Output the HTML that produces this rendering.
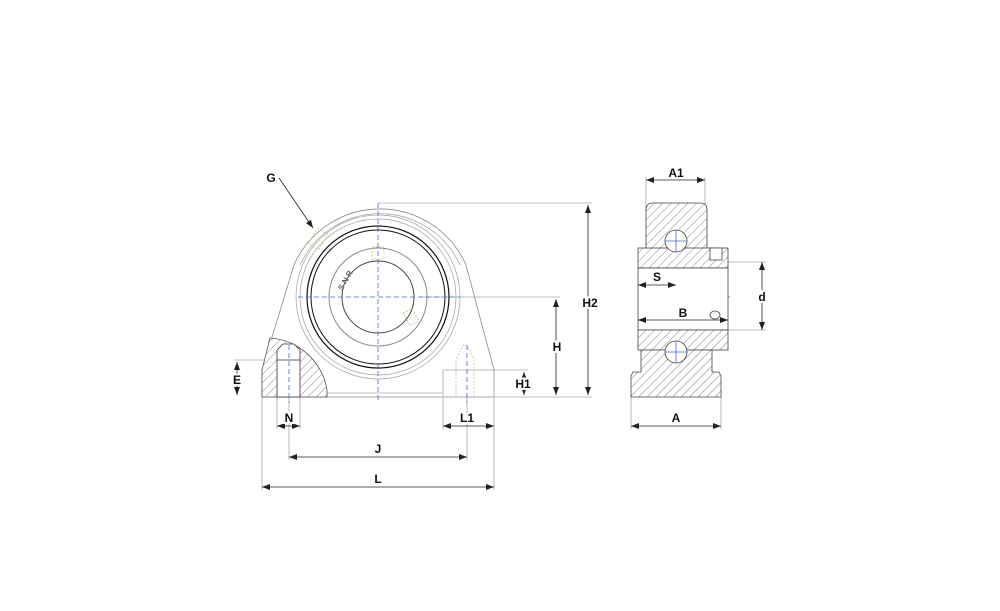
<!DOCTYPE html>
<html><head><meta charset="utf-8"><style>
html,body{margin:0;padding:0;background:#fff;}
svg{display:block;}
text{font-family:"Liberation Sans",sans-serif;font-weight:bold;font-size:12px;fill:#111;paint-order:stroke;stroke:#fff;stroke-width:4px;}
</style></head><body>
<svg width="1000" height="611" viewBox="0 0 1000 611" xmlns="http://www.w3.org/2000/svg">
<defs>
<pattern id="h" width="6" height="6" patternUnits="userSpaceOnUse" patternTransform="rotate(45)">
<rect width="6" height="6" fill="#fff"/><line x1="0" y1="0" x2="0" y2="6" stroke="#666" stroke-width="0.8"/>
</pattern>
<marker id="a" markerWidth="8" markerHeight="6" refX="8" refY="3" orient="auto-start-reverse" markerUnits="userSpaceOnUse">
<path d="M0,0 L8,3 L0,6 z" fill="#222"/></marker>
</defs>
<g fill="none" stroke="#aaa" stroke-width="0.8">
<path d="M262,397 L262,370 L294,265 A94,94 0 0 1 466,265 L494,370 L494,397 Z" stroke="#888"/>
<path d="M300,265 A88,88 0 0 1 460,265" />
<circle cx="378" cy="297" r="82"/>
<circle cx="378" cy="297" r="78"/>
<line x1="327" y1="393" x2="443" y2="393"/>
<rect x="443" y="370" width="51" height="27"/>
<line x1="378" y1="203" x2="592" y2="203"/>
<line x1="420" y1="297" x2="560" y2="297"/>
<line x1="262" y1="397" x2="592" y2="397"/>
<line x1="494" y1="370" x2="528" y2="370"/>
<line x1="234" y1="360" x2="278" y2="360"/>
<line x1="262" y1="397" x2="262" y2="490"/>
<line x1="494" y1="397" x2="494" y2="490"/>
<line x1="277" y1="397" x2="277" y2="429"/>
<line x1="300" y1="397" x2="300" y2="429"/>
<line x1="443" y1="397" x2="443" y2="429"/>
<line x1="289" y1="397" x2="289" y2="460"/>
<line x1="467" y1="397" x2="467" y2="460"/>
<line x1="646" y1="177" x2="646" y2="210"/>
<line x1="705" y1="177" x2="705" y2="210"/>
<line x1="631" y1="397" x2="631" y2="429"/>
<line x1="721" y1="397" x2="721" y2="429"/>
<line x1="728" y1="262" x2="766" y2="262"/>
<line x1="728" y1="330" x2="766" y2="330"/>
</g>
<path d="M262,397 L262,370 L270,338 A62,62 0 0 1 327,390 L327,397 Z" fill="url(#h)" stroke="#555" stroke-width="0.8"/>
<path d="M277,397 L277,350 L283,344 L294,344 L300,350 L300,397 Z" fill="#fff" stroke="#333" stroke-width="0.8"/>
<line x1="277" y1="360" x2="300" y2="360" stroke="#333" stroke-width="0.8"/>
<path d="M456,397 L456,360 L461,350 L464,344 L470,350 L474,360 L474,397" fill="none" stroke="#cc9" stroke-dasharray="2,1.5"/>
<g fill="none" stroke="#111">
<circle cx="378" cy="297" r="71" stroke-width="1.2"/>
<circle cx="378" cy="297" r="67" stroke-width="1"/>
<circle cx="378" cy="297" r="49" stroke="#888"/>
<circle cx="378" cy="297" r="36" stroke="#444"/>
</g>
<rect x="372" y="247" width="12" height="12" fill="none" stroke="#cc9" stroke-dasharray="2,1.5"/>
<rect x="312" y="230" width="12" height="18" fill="none" stroke="#cc9" stroke-dasharray="2,1.5" transform="rotate(30 318 239)"/>
<rect x="406" y="310" width="10" height="14" fill="none" stroke="#cc9" stroke-dasharray="2,1.5" transform="rotate(-30 411 317)"/>
<text x="336" y="290" style="font-size:8px;fill:#666;stroke:none" transform="rotate(-60 340 285)">S N R</text>
<g stroke="#3a6fd8" stroke-width="0.8" stroke-dasharray="5,3" fill="none">
<line x1="378" y1="203" x2="378" y2="400"/>
<line x1="298" y1="297" x2="460" y2="297"/>
<line x1="289" y1="345" x2="289" y2="403"/>
<line x1="467" y1="345" x2="467" y2="403"/>
<line x1="638" y1="297" x2="730" y2="297"/>
</g>
<g stroke="#444" stroke-width="0.8">
<path d="M646,260 L646,210 Q646,203 653,203 L700,203 Q707,203 707,210 L707,260" fill="url(#h)"/>
<rect x="638" y="248" width="90" height="20" fill="url(#h)"/>
<rect x="638" y="268" width="90" height="62" fill="#fff"/>
<rect x="638" y="330" width="90" height="20" fill="url(#h)"/>
<path d="M641,350 L641,372 L633,372 L631,376 L631,397 L721,397 L721,376 L719,372 L712,372 L712,350 Z" fill="url(#h)"/>
<circle cx="676" cy="241" r="11" fill="#fff"/>
<circle cx="676" cy="352" r="11" fill="#fff"/>
<rect x="710" y="248" width="12" height="12" fill="#fff"/>
<ellipse cx="715" cy="315" rx="5" ry="4" fill="#fff"/>
</g>
<g stroke="#3a6fd8" stroke-width="0.8" fill="none">
<line x1="676" y1="230" x2="676" y2="252"/><line x1="665" y1="241" x2="687" y2="241"/>
<line x1="676" y1="341" x2="676" y2="363"/><line x1="665" y1="352" x2="687" y2="352"/>
</g>
<g stroke="#222" stroke-width="0.8" fill="none" marker-start="url(#a)" marker-end="url(#a)">
<line x1="588" y1="205" x2="588" y2="395"/>
<line x1="556" y1="299" x2="556" y2="395"/>
<line x1="524" y1="372" x2="524" y2="395"/>
<line x1="237" y1="362" x2="237" y2="395"/>
<line x1="277" y1="426" x2="300" y2="426"/>
<line x1="443" y1="426" x2="494" y2="426"/>
<line x1="289" y1="457" x2="467" y2="457"/>
<line x1="262" y1="487" x2="494" y2="487"/>
<line x1="646" y1="180" x2="705" y2="180"/>
<line x1="631" y1="426" x2="721" y2="426"/>
<line x1="762" y1="262" x2="762" y2="330"/>
<line x1="638" y1="285" x2="676" y2="285"/>
<line x1="638" y1="320" x2="728" y2="320"/>
</g>
<line x1="279" y1="178" x2="313" y2="228" stroke="#222" stroke-width="0.8" marker-end="url(#a)"/>
<g text-anchor="middle">
<text x="271" y="182">G</text>
<text x="590" y="307">H2</text>
<text x="557" y="351">H</text>
<text x="523" y="388">H1</text>
<text x="237" y="384">E</text>
<text x="289" y="422">N</text>
<text x="467" y="422">L1</text>
<text x="378" y="453">J</text>
<text x="378" y="483">L</text>
<text x="676" y="177">A1</text>
<text x="676" y="422">A</text>
<text x="762" y="301">d</text>
<text x="657" y="281">S</text>
<text x="683" y="317">B</text>
</g>
</svg>
</body></html>
